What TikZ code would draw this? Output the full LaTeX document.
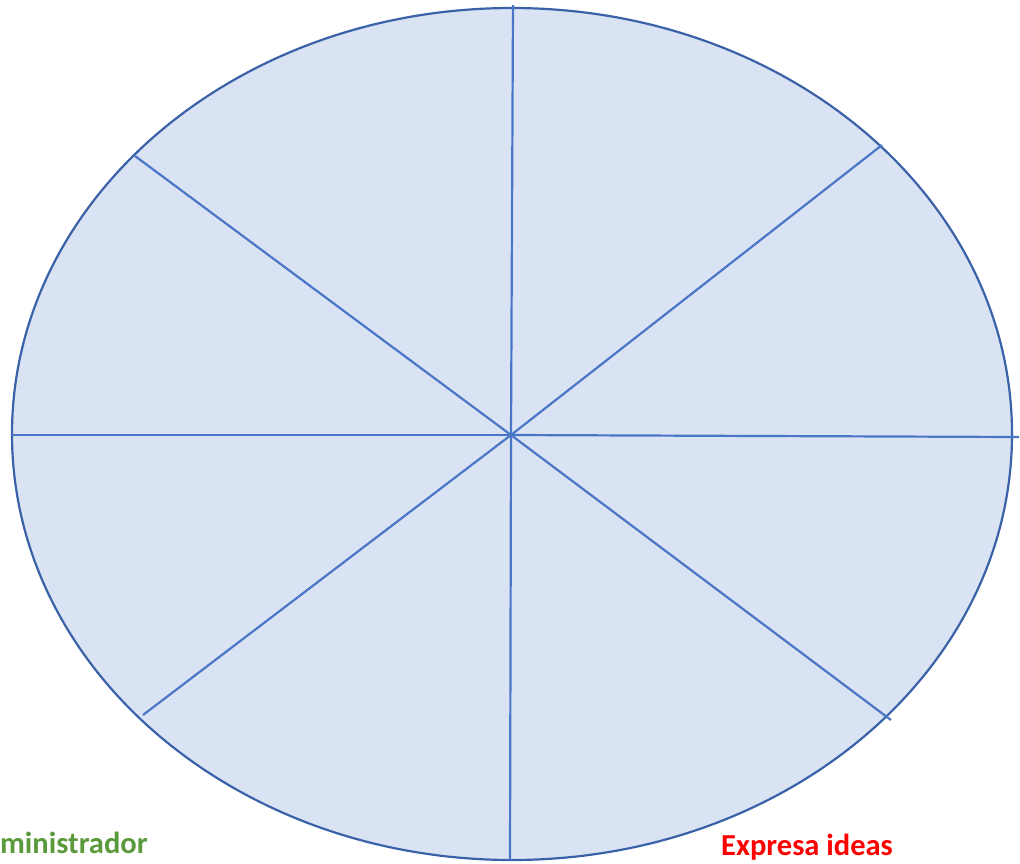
\documentclass[tikz,border=0pt]{standalone}
\usepackage{fontspec}
\setmainfont{Carlito}
\definecolor{wheelfill}{HTML}{DAE3F3}
\definecolor{wheelrim}{HTML}{3A62A8}
\definecolor{spoke}{HTML}{4A76C8}
\definecolor{labgreen}{HTML}{5B9A3C}
\definecolor{labred}{HTML}{FF0000}
\tikzset{
  rim/.style={draw=wheelrim, fill=wheelfill, line width=2.2pt},
  spokeline/.style={draw=spoke, line width=2.2pt},
  lab/.style={font=\bfseries\fontsize{30.5}{33}\selectfont, inner sep=0pt, anchor=base west}
}
\begin{document}
\begin{tikzpicture}[x=1pt,y=-1pt]
\useasboundingbox (0,0) rectangle (1020,863);
\draw[rim] (512,434) ellipse [x radius=500, y radius=426];
\coordinate (c) at (511,435);
\coordinate (n) at (513,5);
\coordinate (s) at (510,860);
\coordinate (w) at (12,435);
\coordinate (e) at (1019,437);
\coordinate (ne) at (882,145);
\coordinate (sw) at (143,715);
\coordinate (nw) at (135,156);
\coordinate (se) at (891,720);
\draw[spokeline] (c) -- (n);
\draw[spokeline] (c) -- (s);
\draw[spokeline] (c) -- (w);
\draw[spokeline] (c) -- (e);
\draw[spokeline] (c) -- (ne);
\draw[spokeline] (c) -- (sw);
\draw[spokeline] (c) -- (nw);
\draw[spokeline] (c) -- (se);
\node[lab, text=labgreen] (admin) at (0,853) {ministrador};
\node[lab, text=labred] (ideas) at (721,855) {Expresa ideas};
\end{tikzpicture}
\end{document}
